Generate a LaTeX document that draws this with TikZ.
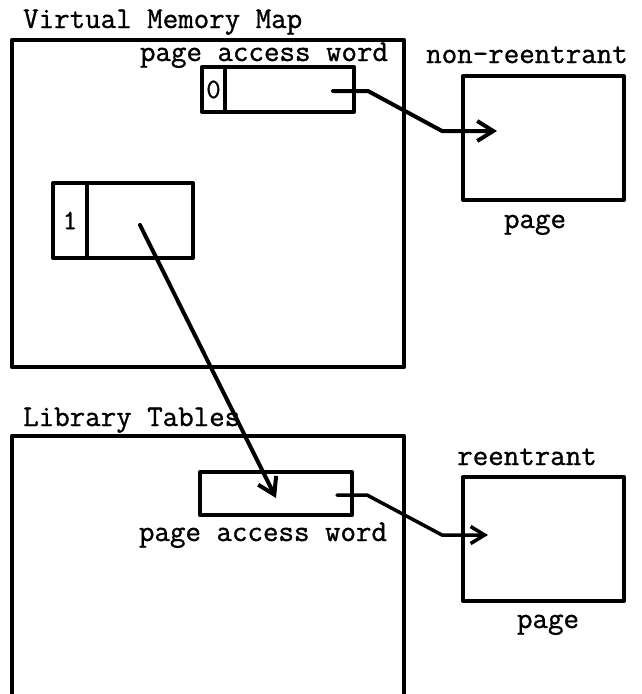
\documentclass[tikz,border=0pt]{standalone}
\usepackage{fontspec}
\newfontfamily\courfont{Latin Modern Mono}[FakeBold=1]
\usetikzlibrary{arrows.meta}
\begin{document}
\begin{tikzpicture}[x=1pt,y=-1pt,
  lbl/.style={font=\courfont\fontsize{30.1}{34}\selectfont, inner sep=0pt},
  frame/.style={draw, rectangle, line width=4.5pt, line join=round, inner sep=0pt},
  cell/.style={draw, rectangle, line width=4pt, line join=round, inner sep=0pt,
    font=\courfont\fontsize{28}{32}\selectfont},
  ptr/.style={line width=4pt, line cap=round, line join=round,
    -{Straight Barb[length=16pt,width=20pt]}},
  thinptr/.style={line width=3.5pt, line cap=round, line join=round,
    -{Straight Barb[length=14pt,width=17pt]}}
]
\useasboundingbox (0,0) rectangle (642,694);

% Virtual Memory Map frame
\node[lbl, anchor=base west] (tvmm) at (23,28) {Virtual Memory Map};
\node[frame, minimum width=392pt, minimum height=327pt] (vmm) at (208,203.5) {};

\node[lbl, anchor=base] (tpaw1) at (264,61) {page access word};
\node[cell, minimum width=23pt, minimum height=45pt] (b0flag) at (213.5,89.5) {0};
\node[cell, minimum width=129pt, minimum height=45pt] (b0ptr) at (289.5,89.5) {};

\node[cell, minimum width=34pt, minimum height=75pt] (b1flag) at (70,220.5) {1};
\node[cell, minimum width=106pt, minimum height=75pt] (b1ptr) at (140,220.5) {};

% non-reentrant page
\node[lbl, anchor=base] (tnr) at (527,63) {non-reentrant};
\node[frame, line width=4pt, minimum width=161pt, minimum height=124pt] (page1) at (543.5,138) {};
\node[lbl, anchor=base] (tpg1) at (535,228) {page};

% Library Tables frame (open at the bottom)
\node[lbl, anchor=base west] (tlt) at (23,426) {Library Tables};
\node[frame, minimum width=392pt, minimum height=290pt] (lt) at (208,581) {};

\node[cell, minimum width=152pt, minimum height=43pt] (bpa) at (276,493.5) {};
\node[lbl, anchor=base] (tpaw2) at (263,541) {page access word};

% reentrant page
\node[lbl, anchor=base] (tre) at (527,465) {reentrant};
\node[frame, line width=4pt, minimum width=161pt, minimum height=124pt] (page2) at (543.5,539) {};
\node[lbl, anchor=base] (tpg2) at (548,628) {page};

% connectors
\coordinate (a1s) at (333,91);
\coordinate (a1t) at (497,131);
\draw[ptr] (a1s) -- ++(35,0) -- ++(74,40) -- (a1t);

\coordinate (a2s) at (140,225);
\coordinate (a2t) at (276,498);
\draw[ptr] (a2s) -- (a2t);

\coordinate (a3s) at (337,495);
\coordinate (a3t) at (488,535);
\draw[thinptr] (a3s) -- ++(30,0) -- ++(75,40) -- (a3t);
\end{tikzpicture}
\end{document}
